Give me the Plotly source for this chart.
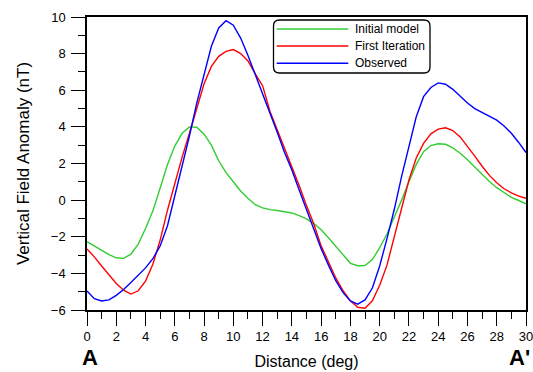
import plotly.graph_objects as go

distance = [i * 0.5 for i in range(61)]

initial_model = [
    -2.27, -2.50, -2.75, -2.98, -3.15, -3.18, -2.95, -2.40, -1.55, -0.60,
    0.66, 1.95, 2.95, 3.65, 4.00, 3.98, 3.60, 3.00, 2.15, 1.50,
    1.00, 0.50, 0.10, -0.25, -0.42, -0.52, -0.57, -0.62, -0.70, -0.85,
    -1.02, -1.28, -1.62, -2.05, -2.50, -3.00, -3.45, -3.58, -3.57, -3.25,
    -2.60, -1.85, -0.95, 0.00, 1.00, 1.95, 2.65, 2.98, 3.08, 3.05,
    2.85, 2.56, 2.20, 1.80, 1.40, 1.02, 0.68, 0.40, 0.15, -0.02,
    -0.20,
]

first_iteration = [
    -2.67, -3.10, -3.60, -4.10, -4.55, -4.92, -5.13, -4.95, -4.42, -3.50,
    -2.18, -0.55, 0.92, 2.35, 3.65, 5.00, 6.35, 7.30, 7.85, 8.12,
    8.22, 8.00, 7.60, 6.90, 6.25, 4.85, 3.85, 2.85, 1.85, 0.80,
    -0.30, -1.30, -2.50, -3.40, -4.25, -4.95, -5.50, -5.85, -5.90, -5.50,
    -4.65, -3.55, -2.05, -0.40, 1.10, 2.30, 3.10, 3.62, 3.88, 3.95,
    3.80, 3.45, 2.95, 2.40, 1.85, 1.35, 0.95, 0.62, 0.40, 0.22,
    0.10,
]

observed = [
    -4.96, -5.38, -5.51, -5.45, -5.20, -4.88, -4.50, -4.10, -3.70, -3.20,
    -2.50, -1.40, 0.20, 1.95, 3.50, 5.30, 6.90, 8.40, 9.40, 9.80,
    9.55, 8.85, 7.90, 6.85, 5.90, 4.75, 3.70, 2.60, 1.65, 0.55,
    -0.50, -1.55, -2.65, -3.55, -4.40, -5.05, -5.50, -5.68, -5.45, -4.80,
    -3.60, -2.10, -0.50, 1.30, 3.00, 4.55, 5.65, 6.15, 6.40, 6.33,
    6.05, 5.65, 5.30, 5.00, 4.80, 4.58, 4.37, 4.05, 3.65, 3.15,
    2.60,
]

series_names = ["Initial model", "First Iteration", "Observed"]
series_colors = ["#33cc33", "#ff0000", "#0000ff"]
series_values = [initial_model, first_iteration, observed]

FONT = "Liberation Sans, Arial, Helvetica, sans-serif"

fig = go.Figure()
for name, color, vals in zip(series_names, series_colors, series_values):
    fig.add_trace(go.Scatter(x=distance, y=vals, mode="lines", name=name,
                             line=dict(color=color, width=1.4), showlegend=False))

# plot area in px: x 87..526, y 17..310
W, H = 533, 372
L, R, T, B = 87, 7, 17, 62
pw, ph = W - L - R, H - T - B

def px(xp):
    return (xp - L) / pw

def py(yp):
    return (H - B - yp) / ph

# custom legend box with rounded corners
x0, x1 = px(273.5), px(430)
y0, y1 = py(73), py(20)
rx, ry = 6 / pw, 6 / ph
path = (f"M{x0+rx},{y1} L{x1-rx},{y1} Q{x1},{y1} {x1},{y1-ry} "
        f"L{x1},{y0+ry} Q{x1},{y0} {x1-rx},{y0} "
        f"L{x0+rx},{y0} Q{x0},{y0} {x0},{y0+ry} "
        f"L{x0},{y1-ry} Q{x0},{y1} {x0+rx},{y1} Z")
shapes = [dict(type="path", xref="paper", yref="paper", path=path,
               line=dict(color="black", width=1.3), fillcolor="white", layer="above")]
annotations = []
legend_rows = [29, 46, 63.3]
for name, color, yrow in zip(series_names, series_colors, legend_rows):
    shapes.append(dict(type="line", xref="paper", yref="paper",
                       x0=px(276.7), x1=px(348.3), y0=py(yrow), y1=py(yrow),
                       line=dict(color=color, width=1.4), layer="above"))
    annotations.append(dict(xref="paper", yref="paper", x=px(353), y=py(yrow),
                            xanchor="left", yanchor="middle", showarrow=False,
                            text=name, font=dict(family=FONT, size=12, color="black")))

annotations.append(dict(xref="paper", yref="paper", x=px(80), y=py(372),
                        xanchor="left", yanchor="bottom", showarrow=False,
                        text="<b>A</b>", font=dict(family=FONT, size=22, color="black")))
annotations.append(dict(xref="paper", yref="paper", x=px(532), y=py(372),
                        xanchor="right", yanchor="bottom", showarrow=False,
                        text="<b>A'</b>", font=dict(family=FONT, size=22, color="black")))

fig.update_layout(
    width=W, height=H,
    margin=dict(l=L, r=R, t=T, b=B, pad=0, autoexpand=False),
    paper_bgcolor="white", plot_bgcolor="white",
    font=dict(family=FONT, size=13, color="black"),
    shapes=shapes, annotations=annotations,
    showlegend=False,
)
fig.update_xaxes(
    range=[0, 30], dtick=2, tick0=0, ticks="outside", ticklen=14, tickwidth=1.3,
    tickcolor="black", showline=True, linecolor="black", linewidth=1.5, mirror=True,
    showgrid=False, zeroline=False, tickfont=dict(size=13), automargin=False,
    ticklabeloverflow="allow",
    minor=dict(dtick=1, ticks="outside", ticklen=7, tickwidth=1.3, tickcolor="black", showgrid=False),
    title=dict(text="Distance (deg)", font=dict(size=16), standoff=12),
)
fig.update_yaxes(
    range=[-6, 10], dtick=2, tick0=0, ticks="outside", ticklen=14, tickwidth=1.3,
    tickcolor="black", showline=True, linecolor="black", linewidth=1.5, mirror=True,
    showgrid=False, zeroline=False, tickfont=dict(size=13), automargin=False,
    ticklabeloverflow="allow", ticklabelstandoff=3,
    minor=dict(dtick=1, ticks="outside", ticklen=7, tickwidth=1.3, tickcolor="black", showgrid=False),
    title=dict(text="Vertical Field Anomaly (nT)", font=dict(size=17), standoff=17),
)

fig.write_html("out.html", config={"displayModeBar": False},
               post_script="document.body.style.margin='0';document.body.style.overflow='hidden';")
